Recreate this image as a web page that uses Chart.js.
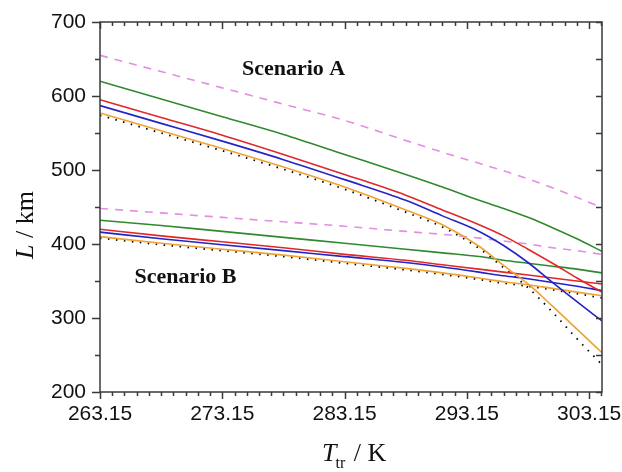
<!DOCTYPE html>
<html lang="en">
<head>
<meta charset="UTF-8">
<title>L vs T_tr</title>
<script src="https://cdn.jsdelivr.net/npm/chart.js"></script>
<style>
  html, body { margin: 0; padding: 0; background: #fff; }
  #wrap { width: 622px; height: 472px; }
</style>
</head>
<body>
<div id="wrap"><canvas id="myChart"></canvas></div>
<script>
// temperature grid (K)
const temps = [263.15, 268.15, 273.15, 278.15, 283.15, 288.15, 291.15, 294.15, 296.15, 298.15, 300.15, 302.15, 304.2];

// Scenario A, L in km
const pinkA   = [655, 633, 611, 589, 567, 540, 524, 509, 499, 488, 476, 463, 449];
const greenA  = [620, 596, 572, 548, 521, 494, 477, 459, 448, 436, 422, 407, 390];
const redA    = [595, 571, 547, 521, 494, 466, 446, 426, 411, 393, 374, 354, 335];
const blueA   = [587, 563, 539, 514, 487, 459, 438, 417, 398, 375, 348, 322, 296];
const orangeA = [577, 553, 529, 504, 477, 446, 426, 397, 371, 346, 316, 285, 253];
const dottedA = [574, 550, 526, 501, 474, 443, 423, 394, 368, 341, 308, 272, 237];

// Scenario B, L in km
const pinkB   = [448, 442, 436, 430, 424, 417, 413, 408, 404, 400, 395, 391, 386];
const greenB  = [432, 425, 417, 409, 401, 393, 388, 383, 378, 374, 370, 366, 361];
const redB    = [420, 411, 403, 395, 386, 378, 372, 366, 362, 358, 354, 350, 346];
const blueB   = [416, 407, 399, 391, 383, 375, 369, 362, 357, 353, 348, 343, 337];
const orangeB = [410, 401, 393, 385, 376, 367, 361, 354, 349, 345, 340, 335, 330];
const dottedB = [408, 399, 391, 383, 374, 365, 359, 352, 347, 343, 338, 333, 327];

const xMajorTicks = [263.15, 273.15, 283.15, 293.15, 303.15];
const yMajorTicks = [200, 300, 400, 500, 600, 700];
const xMinorStep = 1;
const yMinorStep = 50;

const scenarioNotes = [
  { text: 'Scenario A', x: 278.98, y: 636 },
  { text: 'Scenario B', x: 270.14, y: 355 }
];

const PINK = '#e38de3', GREEN = '#2f8a2f', RED = '#e02828', BLUE = '#2323c8', ORANGE = '#eea233';

function series(values, color, dash, width) {
  return {
    data: temps.map((t, i) => ({ x: t, y: values[i] })),
    borderColor: color,
    borderWidth: width || 1.6,
    borderDash: dash || [],
    pointRadius: 0,
    fill: false,
    cubicInterpolationMode: 'monotone'
  };
}

// frame, tick marks, notes and axis titles
const framePlugin = {
  id: 'frame',
  afterDatasetsDraw(chart) {
    const { ctx, chartArea: a } = chart;
    const xs = chart.scales.x, ys = chart.scales.y;
    ctx.save();
    ctx.strokeStyle = '#3a3a3a';
    ctx.lineWidth = 1.5;
    ctx.strokeRect(a.left, a.top, a.right - a.left, a.bottom - a.top);

    ctx.beginPath();
    for (let v = 263.15; v <= 304.2; v += xMinorStep) {
      const px = Math.round(xs.getPixelForValue(v)) + 0.5;
      const major = xMajorTicks.some(m => Math.abs(m - v) < 1e-6);
      const len = major ? 7 : 4;
      ctx.moveTo(px, a.bottom); ctx.lineTo(px, a.bottom + len);
      ctx.moveTo(px, a.top); ctx.lineTo(px, a.top + len);
    }
    for (let v = 200; v <= 700; v += yMinorStep) {
      const py = Math.round(ys.getPixelForValue(v)) + 0.5;
      const major = v % 100 === 0;
      ctx.moveTo(a.left, py); ctx.lineTo(a.left - (major ? 8 : 5), py);
      ctx.moveTo(a.right, py); ctx.lineTo(a.right - 6, py);
    }
    ctx.stroke();

    ctx.fillStyle = '#111';
    ctx.font = 'bold 22px "Liberation Serif", "Times New Roman", serif';
    ctx.textAlign = 'center';
    ctx.textBaseline = 'middle';
    scenarioNotes.forEach(n => {
      ctx.fillText(n.text, xs.getPixelForValue(n.x), ys.getPixelForValue(n.y));
    });

    // x title: T_tr / K
    ctx.textAlign = 'left';
    ctx.textBaseline = 'alphabetic';
    const serif = '"Liberation Serif", "Times New Roman", serif';
    let x0 = 322, yb = 461;
    ctx.font = 'italic 26px ' + serif;
    ctx.fillText('T', x0, yb);
    x0 += ctx.measureText('T').width - 1;
    ctx.font = '16px ' + serif;
    ctx.fillText('tr', x0, yb + 7);
    x0 += ctx.measureText('tr').width + 2;
    ctx.font = '26px ' + serif;
    ctx.fillText(' / K', x0, yb);

    // y title: L / km
    ctx.translate(33, 225);
    ctx.rotate(-Math.PI / 2);
    ctx.font = 'italic 26px ' + serif;
    const wL = ctx.measureText('L').width;
    ctx.font = '26px ' + serif;
    const wR = ctx.measureText(' / km').width;
    let sx = -(wL + wR) / 2;
    ctx.font = 'italic 26px ' + serif;
    ctx.fillText('L', sx, 0);
    ctx.font = '26px ' + serif;
    ctx.fillText(' / km', sx + wL, 0);
    ctx.restore();
  }
};

const tickFont = { family: '"Liberation Sans", Arial, sans-serif', size: 21 };

new Chart(document.getElementById('myChart').getContext('2d'), {
  type: 'line',
  data: {
    datasets: [
      series(pinkA, PINK, [8, 7]),
      series(greenA, GREEN),
      series(redA, RED),
      series(blueA, BLUE),
      series(orangeA, ORANGE),
      series(pinkB, PINK, [8, 7]),
      series(greenB, GREEN),
      series(redB, RED),
      series(blueB, BLUE),
      series(orangeB, ORANGE),
      series(dottedA, '#000', [1.5, 6.5], 1.8),
      series(dottedB, '#000', [1.5, 6.5], 1.8)
    ]
  },
  options: {
    responsive: true,
    maintainAspectRatio: false,
    animation: false,
    layout: { padding: { left: 0, right: 20, top: 22, bottom: 0 }, autoPadding: false },
    plugins: { legend: { display: false }, tooltip: { enabled: false } },
    scales: {
      x: {
        type: 'linear',
        min: 263.15,
        max: 304.2,
        afterBuildTicks: s => { s.ticks = xMajorTicks.map(v => ({ value: v })); },
        afterFit: s => { s.height = 80; s.paddingLeft = 0; s.paddingRight = 0; },
        ticks: {
          font: tickFont, color: '#111', padding: 10,
          maxRotation: 0, autoSkip: false,
          callback: v => Number(v).toFixed(2)
        },
        grid: { display: false, drawTicks: false },
        border: { display: false }
      },
      y: {
        min: 200,
        max: 700,
        afterBuildTicks: s => { s.ticks = yMajorTicks.map(v => ({ value: v })); },
        afterFit: s => { s.width = 100; s.paddingTop = 0; s.paddingBottom = 0; },
        ticks: { font: tickFont, color: '#111', padding: 14 },
        grid: { display: false, drawTicks: false },
        border: { display: false }
      }
    }
  },
  plugins: [framePlugin]
});
</script>
</body>
</html>
